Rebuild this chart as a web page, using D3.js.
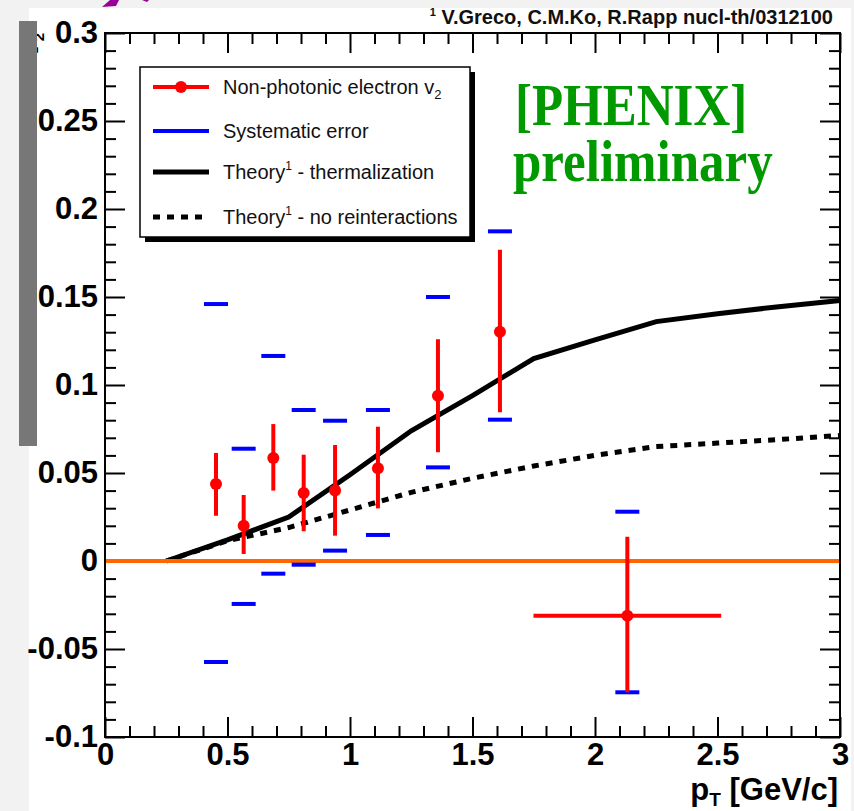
<!DOCTYPE html>
<html>
<head>
<meta charset="utf-8">
<script src="https://cdn.jsdelivr.net/npm/d3@7"></script>
<style>
  html, body { margin: 0; padding: 0; background: #f2f2f2; }
  svg { display: block; }
</style>
</head>
<body>
<div id="chart"></div>
<script>
//DATA
//Non-photonic electron v2 (pT, v2, stat error top/bottom)
const ptValues  = [0.453, 0.566, 0.687, 0.811, 0.939, 1.114, 1.359, 1.612, 2.132];
const ptErr     = [0, 0, 0, 0, 0, 0, 0, 0, 0.383];
const v2Values  = [0.0438, 0.020, 0.0585, 0.0386, 0.040, 0.0527, 0.0939, 0.1303, -0.0311];
const statHigh  = [0.0614, 0.0375, 0.0778, 0.0604, 0.0659, 0.0763, 0.126, 0.1769, 0.0138];
const statLow   = [0.0257, 0.004, 0.040, 0.0169, 0.0144, 0.0299, 0.0618, 0.0845, -0.0746];
//Systematic error limits
const sysHigh   = [0.146, 0.0638, 0.1165, 0.0858, 0.0797, 0.0858, 0.150, 0.1873, 0.028];
const sysLow    = [-0.0574, -0.0244, -0.0072, -0.0021, 0.0059, 0.0148, 0.0532, 0.0803, -0.0746];

//Theory curves (Greco, Ko, Rapp)
const theoryPt   = [0.25, 0.5, 0.75, 1.0, 1.25, 1.5, 1.75, 2.0, 2.25, 2.5, 2.75, 3.0];
const thermalV2  = [0.0, 0.012, 0.025, 0.049, 0.074, 0.094, 0.115, 0.1257, 0.136, 0.1405, 0.1445, 0.148];
const noReintV2  = [0.0, 0.0115, 0.019, 0.029, 0.039, 0.047, 0.054, 0.060, 0.065, 0.067, 0.069, 0.0713];

//Axes
const xTicks      = [0, 0.5, 1, 1.5, 2, 2.5, 3];
const xTickLabels = ["0", "0.5", "1", "1.5", "2", "2.5", "3"];
const yTicks      = [-0.1, -0.05, 0, 0.05, 0.1, 0.15, 0.2, 0.25, 0.3];
const yTickLabels = ["-0.1", "-0.05", "0", "0.05", "0.1", "0.15", "0.2", "0.25", "0.3"];

const legendLabels = ["Non-photonic electron v", "Systematic error", "Theory", "Theory"];

//LAYOUT AND SIZING
const W = 854, H = 811;
const margin = {top:33, left:105};
const width = 735, height = 704;
const font = "'Liberation Sans', Arial, Helvetica, sans-serif";

const svg = d3.select("#chart").append("svg")
  .attr("width", W).attr("height", H);

//page background and white sheet
svg.append("rect").attr("width", W).attr("height", H).attr("fill", "#f2f2f2");
svg.append("rect").attr("x", 29).attr("y", 8).attr("width", 822).attr("height", H - 8).attr("fill", "#fff");

//clipped purple shape at top
svg.append("path").attr("d", "M102,7 L110,0 L119,0 L116,6 Z").attr("fill", "#990099");
svg.append("path").attr("d", "M142,0 L149,0 L147,2 Z").attr("fill", "#990099");

//credit text
const credit = svg.append("text")
  .attr("x", 833).attr("y", 24)
  .attr("text-anchor", "end")
  .attr("font-family", font).attr("font-weight", "bold").attr("font-size", 20)
  .attr("fill", "#111");
credit.append("tspan").attr("font-size", 11).attr("dy", -8).text("1");
credit.append("tspan").attr("dy", 8).text(" V.Greco, C.M.Ko, R.Rapp nucl-th/0312100");

const g = svg.append("g").attr("transform", `translate(${margin.left},${margin.top})`);

//Scales
const x = d3.scaleLinear().domain([0, 3]).range([0, width]);
const y = d3.scaleLinear().domain([-0.1, 0.3]).range([height, 0]);

const xMinor = d3.range(0, 3.001, 0.1).filter(v => Math.abs(v * 2 - Math.round(v * 2)) > 1e-6);
const yMinor = d3.range(-0.1, 0.3001, 0.01).filter(v => Math.abs(v * 20 - Math.round(v * 20)) > 1e-6);

function styleAxis(sel){
  sel.select(".domain").remove();
  sel.selectAll(".tick line").attr("stroke", "#000").attr("stroke-width", 2);
  sel.attr("font-family", font).attr("font-size", 31).attr("font-weight", "bold");
  sel.selectAll(".tick text").attr("fill", "#000");
}

//Left axis
g.append("g").call(d3.axisLeft(y).tickValues(yTicks).tickSize(-20).tickPadding(7)
  .tickFormat((d, i) => yTickLabels[i])).call(styleAxis);
g.append("g").call(d3.axisLeft(y).tickValues(yMinor).tickSize(-11).tickFormat("")).call(styleAxis);
//Right axis
g.append("g").attr("transform", `translate(${width},0)`)
  .call(d3.axisRight(y).tickValues(yTicks).tickSize(-20).tickFormat("")).call(styleAxis);
g.append("g").attr("transform", `translate(${width},0)`)
  .call(d3.axisRight(y).tickValues(yMinor).tickSize(-11).tickFormat("")).call(styleAxis);
//Bottom axis
g.append("g").attr("transform", `translate(0,${height})`)
  .call(d3.axisBottom(x).tickValues(xTicks).tickSize(-20).tickPadding(6)
  .tickFormat((d, i) => xTickLabels[i])).call(styleAxis);
g.append("g").attr("transform", `translate(0,${height})`)
  .call(d3.axisBottom(x).tickValues(xMinor).tickSize(-11).tickFormat("")).call(styleAxis);
//Top axis
g.append("g").call(d3.axisTop(x).tickValues(xTicks).tickSize(-20).tickFormat("")).call(styleAxis);
g.append("g").call(d3.axisTop(x).tickValues(xMinor).tickSize(-11).tickFormat("")).call(styleAxis);

//Frame
g.append("rect").attr("width", width).attr("height", height)
  .attr("fill", "none").attr("stroke", "#000").attr("stroke-width", 2);

//Axis titles
const xTitle = g.append("text")
  .attr("x", width - 2).attr("y", 767)
  .attr("text-anchor", "end")
  .attr("font-family", font).attr("font-weight", "bold").attr("font-size", 31);
xTitle.append("tspan").text("p");
xTitle.append("tspan").attr("font-size", 19).attr("dy", 6).text("T");
xTitle.append("tspan").attr("dy", -6).text(" [GeV/c]");

const yTitle = svg.append("text")
  .attr("transform", "translate(38,33) rotate(-90)")
  .attr("text-anchor", "end")
  .attr("font-family", font).attr("font-weight", "bold").attr("font-size", 31);
yTitle.append("tspan").text("v");
yTitle.append("tspan").attr("font-size", 15).attr("dy", 6).text("2");

//Theory curves
const line = d3.line().x(d => x(d[0])).y(d => y(d[1]));
g.append("path").datum(d3.zip(theoryPt, thermalV2))
  .attr("d", line).attr("fill", "none").attr("stroke", "#000").attr("stroke-width", 5);
g.append("path").datum(d3.zip(theoryPt, noReintV2))
  .attr("d", line).attr("fill", "none").attr("stroke", "#000").attr("stroke-width", 5)
  .attr("stroke-dasharray", "7,7");

//Zero line
g.append("line")
  .attr("x1", x(0) + 1).attr("x2", x(3) - 1)
  .attr("y1", y(0)).attr("y2", y(0))
  .attr("stroke", "#ff6600").attr("stroke-width", 4);

//Data
const pts = ptValues.map((p, i) => ({
  pt: p, ex: ptErr[i], v: v2Values[i],
  hi: statHigh[i], lo: statLow[i], sHi: sysHigh[i], sLo: sysLow[i]
}));

const sysG = g.append("g");
sysG.selectAll("line.hi").data(pts).join("line").attr("class", "hi")
  .attr("x1", d => x(d.pt) - 12).attr("x2", d => x(d.pt) + 12)
  .attr("y1", d => y(d.sHi)).attr("y2", d => y(d.sHi))
  .attr("stroke", "#0000ff").attr("stroke-width", 4);
sysG.selectAll("line.lo").data(pts).join("line").attr("class", "lo")
  .attr("x1", d => x(d.pt) - 12).attr("x2", d => x(d.pt) + 12)
  .attr("y1", d => y(d.sLo)).attr("y2", d => y(d.sLo))
  .attr("stroke", "#0000ff").attr("stroke-width", 4);

const dataG = g.append("g");
dataG.selectAll("line.ey").data(pts).join("line").attr("class", "ey")
  .attr("x1", d => x(d.pt)).attr("x2", d => x(d.pt))
  .attr("y1", d => y(d.hi)).attr("y2", d => y(d.lo))
  .attr("stroke", "#ff0000").attr("stroke-width", 4);
dataG.selectAll("line.ex").data(pts.filter(d => d.ex > 0)).join("line").attr("class", "ex")
  .attr("x1", d => x(d.pt - d.ex)).attr("x2", d => x(d.pt + d.ex))
  .attr("y1", d => y(d.v)).attr("y2", d => y(d.v))
  .attr("stroke", "#ff0000").attr("stroke-width", 4);
dataG.selectAll("circle").data(pts).join("circle")
  .attr("cx", d => x(d.pt)).attr("cy", d => y(d.v)).attr("r", 6)
  .attr("fill", "#ff0000");

//Legend
const lg = svg.append("g");
lg.append("rect").attr("x", 145).attr("y", 72).attr("width", 330).attr("height", 170).attr("fill", "#000");
lg.append("rect").attr("x", 140).attr("y", 67).attr("width", 330).attr("height", 170)
  .attr("fill", "#fff").attr("stroke", "#000").attr("stroke-width", 1.5);

const rowY = [87, 131, 172, 217];
const styles = [
  {stroke:"#ff0000", w:4, dash:null},
  {stroke:"#0000ff", w:4, dash:null},
  {stroke:"#000", w:5, dash:null},
  {stroke:"#000", w:5, dash:"7,7"}
];
legendLabels.forEach((lab, i) => {
  const s = styles[i];
  lg.append("line").attr("x1", 153).attr("x2", 209).attr("y1", rowY[i]).attr("y2", rowY[i])
    .attr("stroke", s.stroke).attr("stroke-width", s.w).attr("stroke-dasharray", s.dash);
  if (i === 0) lg.append("circle").attr("cx", 181).attr("cy", rowY[i]).attr("r", 6).attr("fill", "#ff0000");
  const t = lg.append("text").attr("x", 223).attr("y", rowY[i] + 7)
    .attr("font-family", font).attr("font-size", 20).attr("fill", "#111");
  t.append("tspan").text(lab);
  if (i === 0) t.append("tspan").attr("font-size", 13).attr("dy", 5).text("2");
  if (i >= 2) {
    t.append("tspan").attr("font-size", 12).attr("dy", -9).text("1");
    t.append("tspan").attr("dy", 9).text(i === 2 ? " - thermalization" : " - no reinteractions");
  }
});

//PHENIX label (one text, two lines)
const phenix = svg.append("text").attr("transform", "translate(515,125) scale(1,1.18)")
  .attr("font-family", "'Liberation Serif', 'Times New Roman', serif")
  .attr("font-weight", "bold").attr("font-size", 51).attr("fill", "#009900");
phenix.append("tspan").attr("x", 0).attr("y", 0).text("[PHENIX]");
phenix.append("tspan").attr("x", -2).attr("y", 47.5).text("preliminary");

//gray bar over the y title
svg.append("rect").attr("x", 19).attr("y", 21).attr("width", 18).attr("height", 425).attr("fill", "#777");
</script>
</body>
</html>
